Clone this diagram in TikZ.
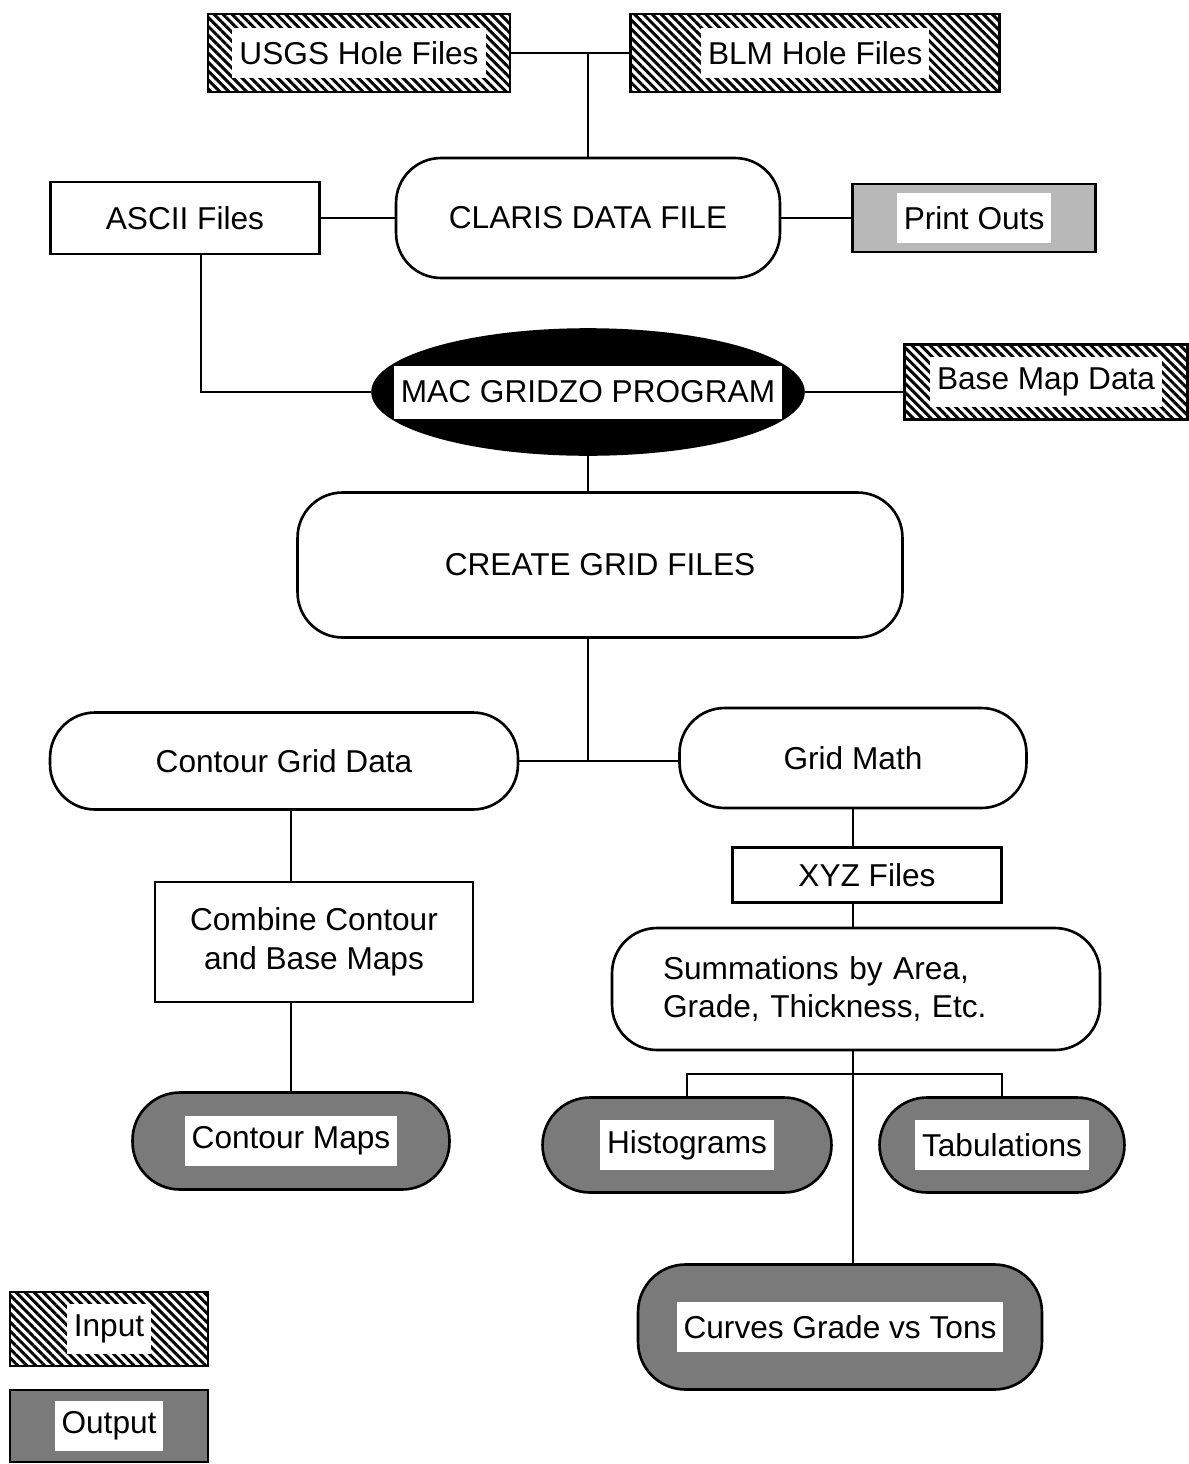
\documentclass[tikz,border=0pt]{standalone}
\usepackage{fontspec}
\setmainfont{Liberation Sans}
\usetikzlibrary{positioning,shapes.geometric,patterns.meta}

\tikzset{
  plainbox/.style={draw, line width=1.5pt, minimum height=1.44cm},
  inbox/.style={plainbox, pattern={Lines[angle=-45,distance=3.6pt,line width=1.7pt]}},
  outbox/.style={plainbox, fill=black!52},
  outpill/.style={outbox, rounded corners=0.95cm},
  pill/.style={plainbox, rounded corners=0.9cm},
  tag/.style={fill=white, inner xsep=4pt, inner ysep=0pt, minimum height=1cm},
  wire/.style={line width=1.3pt},
}

\begin{document}
\begin{tikzpicture}[x=0.02cm, y=-0.02cm, font=\fontsize{18}{22}\selectfont]
  \useasboundingbox (0,0) rectangle (1188,1464);

  % inputs on top
  \node[inbox, minimum width=6.04cm, minimum height=1.56cm] (usgs) at (359,53) {};
  \node[tag] (usgs-t) at (usgs) {USGS Hole Files};
  \node[inbox, minimum width=7.38cm, minimum height=1.56cm, right=2.36cm of usgs] (blm) {};
  \node[tag] (blm-t) at (blm) {BLM Hole Files};

  \node[pill, minimum width=7.68cm, minimum height=2.4cm] (claris) at (588,218) {CLARIS DATA FILE};
  \node[plainbox, minimum width=5.38cm, left=1.48cm of claris] (ascii) {ASCII Files};
  \node[plainbox, fill=black!28, minimum width=4.86cm, minimum height=1.36cm, right=1.4cm of claris] (print) {};
  \node[tag] (print-t) at (print) {Print Outs};

  \node[ellipse, draw, fill=black, line width=1.5pt, minimum width=8.62cm, minimum height=2.5cm] (gridzo) at (588,392) {};
  \node[tag, minimum height=1.06cm] (gridzo-t) at (gridzo) {MAC GRIDZO PROGRAM};
  \node[inbox, minimum width=5.66cm, minimum height=1.5cm, right=1.97cm of gridzo, yshift=0.2cm] (base) {};
  \node[tag] (base-t) at (base) {Base Map Data};

  \node[pill, minimum width=12.1cm, minimum height=2.9cm] (create) at (600,565) {CREATE GRID FILES};

  % left branch
  \node[pill, minimum width=9.36cm, minimum height=1.94cm] (contour) at (284,761) {Contour Grid Data};
  \node[plainbox, minimum width=6.36cm, minimum height=2.4cm, align=center] (combine) at (314,942) {Combine Contour\\and Base Maps};
  \node[outpill, minimum width=6.34cm, minimum height=1.94cm] (cmaps) at (291,1141) {};
  \node[tag] (cmaps-t) at (cmaps) {Contour Maps};

  % right branch
  \node[pill, minimum width=6.94cm, minimum height=2cm] (gridmath) at (853,758) {Grid Math};
  \node[plainbox, minimum width=5.38cm, minimum height=1.1cm] (xyz) at (867,875) {XYZ Files};
  \node[pill, minimum width=9.76cm, minimum height=2.44cm, text width=7.72cm, inner xsep=0pt, align=left] (summ) at (856,989) {Summations by Area,\\Grade, Thickness, Etc.};
  \node[outpill, minimum width=5.78cm, minimum height=1.9cm] (hist) at (687,1145) {};
  \node[tag] (hist-t) at (hist) {Histograms};
  \node[outpill, minimum width=4.9cm, minimum height=1.9cm] (tab) at (1002,1145) {};
  \node[tag] (tab-t) at (tab) {Tabulations};
  \node[outpill, minimum width=8.08cm, minimum height=2.5cm] (curves) at (840,1327) {};
  \node[tag] (curves-t) at (curves) {Curves Grade vs Tons};

  % legend
  \node[inbox, minimum width=3.96cm, minimum height=1.48cm] (input) at (109,1329) {};
  \node[tag] (input-t) at (input) {Input};
  \node[outbox, minimum width=3.96cm] (output) at (109,1426) {};
  \node[tag] (output-t) at (output) {Output};

  \draw[wire] (usgs) -- (blm);
  \draw[wire] (claris.north) -- (claris.north |- usgs.east);
  \draw[wire] (ascii) -- (claris);
  \draw[wire] (claris) -- (print);
  \draw[wire] ([xshift=0.32cm]ascii.south) |- (gridzo.west);
  \draw[wire] (gridzo.east) -- (gridzo.east -| base.west);
  \draw[wire] (gridzo.south) -- (gridzo.south |- create.north);
  \coordinate (split) at (gridzo.south |- contour.east);
  \draw[wire] (split |- create.south) -- (split);
  \draw[wire] (contour.east) -- (contour.east -| gridmath.west);
  \draw[wire] (cmaps.north |- contour.south) -- (cmaps.north |- combine.north);
  \draw[wire] (cmaps.north |- combine.south) -- (cmaps.north);
  \draw[wire] (gridmath.south) -- (gridmath.south |- xyz.north);
  \draw[wire] (gridmath.south |- xyz.south) -- (gridmath.south |- summ.north);
  \draw[wire] (gridmath.south |- summ.south) -- (gridmath.south |- curves.north);
  \coordinate (fork) at ([yshift=-0.46cm]summ.south);
  \draw[wire] (hist.north) |- (fork) -| (tab.north);
\end{tikzpicture}
\end{document}
